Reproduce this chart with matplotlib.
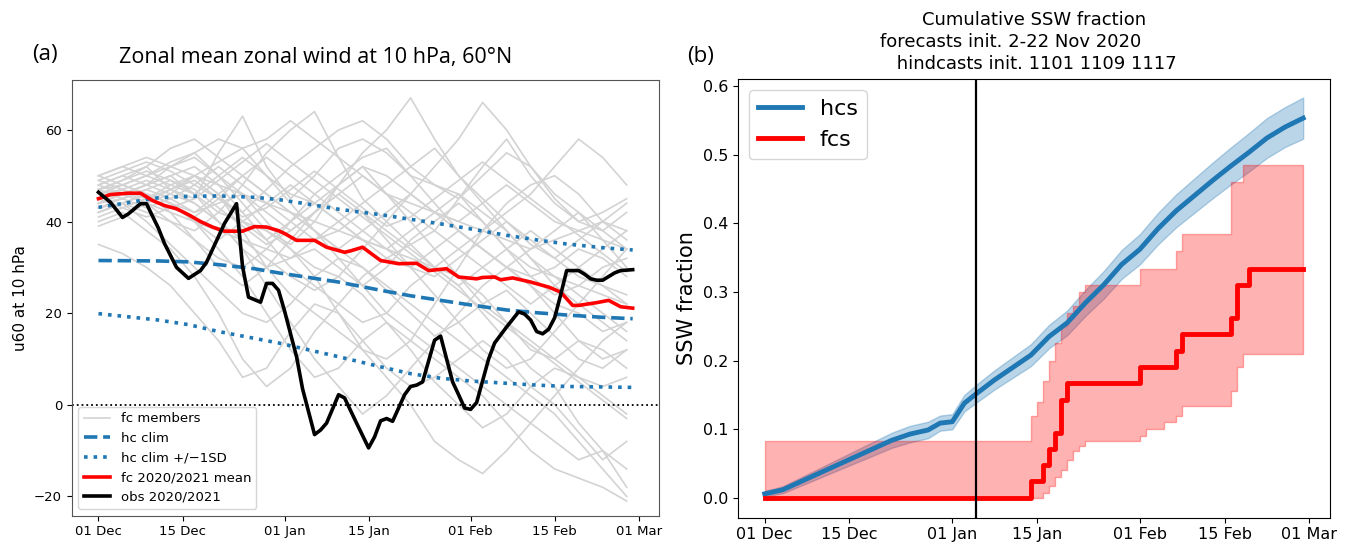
import matplotlib
matplotlib.use('Agg')
import matplotlib.pyplot as plt
import matplotlib.dates as mdates
from datetime import datetime, timedelta

start = datetime(2020, 12, 1)

# ---- panel (a): zonal mean zonal wind at 10 hPa, 60N ----
# forecast members, one value every 4 days from 01 Dec
member_days = [0, 4, 8, 12, 16, 20, 24, 28, 32, 36, 40, 44, 48, 52, 56, 60, 64, 68, 72, 76, 80, 84, 88]
members = [
    [48, 50, 52, 47, 45, 55, 63, 52, 45, 50, 56, 58, 55, 50, 48, 45, 50, 55, 52, 45, 40, 42, 45],
    [45, 47, 44, 40, 38, 42, 48, 55, 60, 64, 54, 45, 40, 35, 38, 45, 52, 58, 50, 44, 40, 38, 42],
    [50, 52, 50, 53, 55, 50, 44, 38, 35, 40, 48, 55, 60, 67, 58, 50, 45, 40, 35, 32, 36, 40, 38],
    [42, 44, 40, 35, 30, 25, 20, 18, 22, 28, 32, 30, 25, 20, 15, 18, 22, 25, 20, 15, 10, 8, 12],
    [46, 48, 46, 44, 40, 34, 28, 20, 12, 6, 8, 14, 18, 12, 5, 0, -5, -2, 4, 8, 6, 2, -2],
    [44, 46, 48, 50, 52, 48, 42, 36, 30, 26, 22, 18, 20, 26, 30, 28, 24, 18, 12, 10, 14, 12, 8],
    [40, 42, 38, 34, 28, 20, 10, 4, 8, 16, 22, 28, 32, 35, 30, 26, 20, 14, 8, 4, -4, -10, -18],
    [47, 49, 52, 56, 58, 54, 50, 46, 42, 38, 34, 30, 26, 22, 18, 14, 10, 6, 2, -2, -8, -14, -20],
    [43, 45, 47, 45, 42, 44, 46, 40, 34, 28, 20, 12, 6, 0, -8, -12, -15, -10, -4, 2, 8, 14, 18],
    [49, 51, 53, 51, 48, 45, 42, 47, 52, 56, 60, 62, 58, 52, 48, 46, 40, 34, 30, 28, 26, 24, 22],
    [41, 43, 45, 48, 50, 46, 38, 30, 24, 20, 16, 12, 10, 14, 22, 30, 38, 44, 48, 50, 46, 40, 36],
    [45, 47, 49, 47, 44, 40, 36, 32, 28, 25, 28, 34, 40, 46, 52, 58, 66, 60, 52, 46, 42, 36, 30],
    [35, 33, 30, 26, 20, 14, 6, 8, 16, 22, 20, 14, 8, 4, 6, 10, 14, 10, 4, 0, -6, -12, -8],
    [47, 48, 50, 52, 55, 58, 56, 50, 44, 38, 32, 26, 20, 16, 12, 8, 4, 0, -4, -8, -12, -10, -14],
    [44, 46, 44, 42, 40, 38, 36, 34, 32, 36, 40, 44, 48, 52, 56, 50, 44, 38, 32, 26, 22, 18, 14],
    [50, 52, 54, 52, 50, 48, 46, 44, 42, 40, 38, 36, 34, 32, 30, 34, 38, 42, 46, 52, 58, 54, 48],
    [42, 44, 46, 42, 36, 30, 26, 30, 36, 42, 48, 52, 46, 40, 34, 28, 22, 18, 14, 10, 6, 4, 6],
    [46, 47, 45, 43, 41, 45, 50, 54, 50, 46, 42, 38, 34, 30, 28, 32, 36, 40, 36, 32, 28, 26, 24],
    [48, 50, 48, 46, 44, 40, 34, 26, 18, 10, 4, -2, 2, 8, 14, 20, 26, 30, 26, 20, 14, 10, 12],
    [43, 44, 42, 40, 36, 32, 30, 34, 40, 46, 50, 54, 56, 50, 44, 38, 34, 30, 26, 22, 20, 16, 18],
    [45, 46, 48, 50, 46, 42, 40, 38, 34, 30, 28, 24, 18, 14, 10, 6, 2, -4, -10, -14, -16, -18, -21],
    [39, 41, 44, 47, 50, 53, 56, 58, 62, 58, 54, 50, 46, 44, 42, 40, 38, 36, 34, 36, 38, 40, 44],
    [47, 45, 43, 45, 48, 52, 48, 44, 40, 36, 38, 42, 36, 30, 24, 18, 12, 8, 10, 16, 22, 28, 34],
    [44, 45, 47, 49, 46, 40, 34, 30, 32, 34, 30, 26, 30, 36, 40, 44, 40, 34, 28, 24, 26, 30, 32],
    [46, 48, 50, 48, 46, 50, 54, 50, 46, 44, 48, 52, 50, 46, 42, 40, 44, 48, 44, 40, 38, 36, 34],
    [48, 46, 44, 46, 50, 46, 40, 36, 40, 44, 40, 36, 32, 30, 34, 38, 34, 30, 28, 30, 34, 32, 28],
    [44, 46, 48, 52, 54, 50, 46, 42, 38, 42, 46, 42, 38, 34, 30, 26, 30, 34, 38, 34, 30, 26, 22],
    [50, 48, 46, 44, 42, 46, 50, 46, 42, 38, 34, 38, 42, 46, 42, 38, 34, 30, 34, 38, 42, 38, 34],
    [42, 44, 46, 44, 40, 36, 40, 44, 48, 44, 40, 36, 34, 38, 42, 46, 42, 38, 32, 28, 24, 20, 16],
    [47, 49, 51, 49, 47, 43, 39, 35, 38, 42, 46, 50, 46, 42, 38, 34, 30, 26, 22, 26, 30, 34, 38],
    [45, 43, 41, 43, 45, 49, 53, 57, 53, 49, 45, 41, 37, 33, 29, 25, 21, 17, 13, 9, 5, 1, -3],
    [49, 47, 45, 47, 49, 45, 41, 43, 47, 51, 47, 43, 39, 41, 45, 49, 53, 49, 45, 41, 37, 33, 29],
]

clim_days = [0, 10, 15, 20, 26, 30, 35, 40, 47, 52, 57, 62, 68, 73, 78, 84, 89]
hc_clim = [31.5, 31.4, 31.2, 30.6, 29.7, 28.8, 27.8, 26.8, 25.0, 23.8, 22.8, 21.8, 20.7, 20.1, 19.6, 19.1, 18.8]
hc_clim_hi = [43.1, 45.2, 45.5, 45.6, 45.3, 44.8, 43.8, 42.7, 41.5, 40.5, 39.5, 38.4, 37.0, 36.0, 35.1, 34.3, 33.8]
hc_clim_lo = [19.9, 18.5, 17.5, 16.0, 14.5, 13.5, 12.0, 10.5, 8.3, 6.8, 5.8, 5.2, 4.7, 4.3, 4.0, 3.9, 3.8]

fc_mean_days = [0, 2, 5, 7, 9, 11, 13, 15, 17, 19, 21, 24, 26, 28, 30, 31, 33, 36, 38, 41, 42, 44, 47,
                50, 53, 55, 58, 60, 63, 64, 66, 67, 69, 72, 75, 77, 79, 80, 83, 85, 87, 89]
fc_mean = [45.0, 45.9, 46.2, 46.2, 44.6, 43.5, 42.8, 41.5, 40.0, 38.8, 37.9, 37.9, 38.9, 38.8, 38.0, 37.4,
           35.9, 35.9, 34.4, 33.3, 33.6, 34.4, 31.5, 30.8, 30.9, 29.3, 29.7, 27.9, 27.5, 27.8, 27.9, 27.3,
           27.7, 26.8, 25.7, 24.6, 21.7, 21.7, 22.3, 22.8, 21.4, 21.1]

obs_days = [0, 2, 4, 5, 7, 8, 10, 11, 13, 15, 17, 18, 21, 23, 24, 25, 27, 28, 29, 30, 31, 33, 34, 36, 37,
            38, 40, 41, 43, 45, 46, 47, 48, 49, 51, 52, 53, 54, 56, 57, 58, 59, 60, 61, 62, 63, 65, 66,
            68, 70, 71, 72, 73, 74, 75, 76, 77, 78, 80, 81, 82, 83, 84, 86, 87, 89]
obs = [46.4, 44.2, 40.9, 41.7, 43.9, 43.9, 38.5, 35.2, 30.0, 27.6, 29.3, 31.1, 39.6, 43.9, 30.2, 23.5,
       22.4, 26.5, 26.5, 25.0, 20.5, 10.5, 3.5, -6.5, -5.5, -4.0, 2.2, 1.5, -4.0, -9.4, -7.0, -3.5, -3.0,
       -3.6, 2.2, 4.0, 4.3, 5.0, 14.1, 15.0, 10.0, 5.0, 2.2, -0.7, -1.0, 0.5, 10.0, 13.5, 17.0, 20.3,
       19.8, 18.5, 16.0, 15.5, 16.5, 19.0, 24.0, 29.3, 29.3, 28.5, 27.5, 27.2, 27.2, 28.8, 29.3, 29.5]

# ---- panel (b): cumulative SSW fraction ----
hcs_days = [0, 3, 6, 9, 12, 15, 18, 21, 24, 27, 29, 31, 33, 35, 38, 41, 44, 47, 50, 53, 56, 59, 62, 65,
            68, 71, 74, 77, 80, 83, 86, 89]
hcs = [0.006, 0.012, 0.024, 0.036, 0.048, 0.060, 0.072, 0.084, 0.093, 0.099, 0.109, 0.111, 0.138, 0.152,
       0.172, 0.190, 0.208, 0.235, 0.255, 0.284, 0.310, 0.340, 0.362, 0.392, 0.418, 0.440, 0.462, 0.483,
       0.503, 0.524, 0.540, 0.553]
hcs_lo = [0.002, 0.007, 0.018, 0.029, 0.040, 0.051, 0.062, 0.073, 0.081, 0.087, 0.098, 0.100, 0.126,
          0.139, 0.158, 0.175, 0.192, 0.218, 0.237, 0.265, 0.290, 0.319, 0.340, 0.369, 0.394, 0.415,
          0.436, 0.456, 0.475, 0.495, 0.511, 0.523]
hcs_hi = [0.010, 0.017, 0.030, 0.043, 0.056, 0.069, 0.082, 0.095, 0.105, 0.111, 0.120, 0.122, 0.150,
          0.165, 0.186, 0.205, 0.224, 0.252, 0.273, 0.303, 0.330, 0.361, 0.384, 0.415, 0.442, 0.465,
          0.488, 0.510, 0.531, 0.553, 0.569, 0.583]

fcs_days = [0, 44, 45, 46, 47, 48, 49, 50, 51, 52, 53, 62, 63, 66, 68, 69, 70, 77, 78, 79, 80, 89]
fcs = [0, 0.024, 0.024, 0.048, 0.071, 0.095, 0.143, 0.167, 0.167, 0.167, 0.167, 0.190, 0.190, 0.190,
       0.214, 0.238, 0.238, 0.262, 0.310, 0.310, 0.333, 0.333]
fcs_hi = [0.083, 0.12, 0.14, 0.17, 0.20, 0.225, 0.25, 0.27, 0.28, 0.30, 0.31, 0.334, 0.334, 0.334,
          0.36, 0.385, 0.385, 0.46, 0.46, 0.485, 0.485, 0.485]
fcs_lo = [0, 0, 0, 0.007, 0.017, 0.03, 0.041, 0.055, 0.068, 0.075, 0.083, 0.09, 0.10, 0.11, 0.12,
          0.134, 0.134, 0.156, 0.19, 0.21, 0.21, 0.21]

ssw_date = datetime(2021, 1, 5)


def to_dates(days):
    return [start + timedelta(days=d) for d in days]


tick_dates = [datetime(2020, 12, 1), datetime(2020, 12, 15), datetime(2021, 1, 1), datetime(2021, 1, 15),
              datetime(2021, 2, 1), datetime(2021, 2, 15), datetime(2021, 3, 1)]
xlim = (start - timedelta(days=4.45), start + timedelta(days=93.45))

fig = plt.figure(figsize=(13.49, 5.45), dpi=100)

# (a)
ax1 = fig.add_axes([0.0532, 0.0538, 0.4356, 0.7994])
for i, m in enumerate(members):
    ax1.plot(to_dates(member_days), m, color='lightgrey', lw=1.2,
             label='fc members' if i == 0 else None)
ax1.plot(to_dates(clim_days), hc_clim, color='#1f77b4', lw=2.6, ls='--', label='hc clim')
ax1.plot(to_dates(clim_days), hc_clim_hi, color='#1f77b4', lw=2.6, ls=':', label='hc clim +/\u22121SD')
ax1.plot(to_dates(clim_days), hc_clim_lo, color='#1f77b4', lw=2.6, ls=':')
ax1.plot(to_dates(fc_mean_days), fc_mean, color='red', lw=2.6, label='fc 2020/2021 mean')
ax1.plot(to_dates(obs_days), obs, color='black', lw=2.6, label='obs 2020/2021')
ax1.axhline(0, color='black', ls=':', lw=1.3)
ax1.set_xlim(xlim)
ax1.set_ylim(-24.2, 70.9)
ax1.set_yticks([-20, 0, 20, 40, 60])
ax1.set_xticks(tick_dates)
ax1.xaxis.set_major_formatter(mdates.DateFormatter('%d %b'))
ax1.tick_params(labelsize=9.5)
ax1.set_ylabel('u60 at 10 hPa', fontsize=11)
for s in ax1.spines.values():
    s.set_color('#555555')
ax1.legend(loc='lower left', fontsize=9.5, handlelength=2.0)
fig.text(0.033, 0.9, '(a)', fontsize=16, family='Open Sans', ha='center', va='center')
fig.text(0.234, 0.894, 'Zonal mean zonal wind at 10 hPa, 60\u00b0N', fontsize=15.5, family='Open Sans',
         ha='center', va='center')

# (b)
ax2 = fig.add_axes([0.5469, 0.0501, 0.4391, 0.8050])
ax2.fill_between(to_dates(hcs_days), hcs_lo, hcs_hi, color='#1f77b4', alpha=0.3)
ax2.plot(to_dates(hcs_days), hcs, color='#1f77b4', lw=3.5, label='hcs')
ax2.fill_between(to_dates(fcs_days), fcs_lo, fcs_hi, color='red', alpha=0.3, step='post')
ax2.step(to_dates(fcs_days), fcs, where='post', color='red', lw=3.5, label='fcs')
ax2.axvline(ssw_date, color='black', lw=1.6)
ax2.set_xlim(xlim)
ax2.set_ylim(-0.0287, 0.610)
ax2.set_xticks(tick_dates)
ax2.xaxis.set_major_formatter(mdates.DateFormatter('%d %b'))
ax2.tick_params(labelsize=11.5)
ax2.set_ylabel('SSW fraction', fontsize=15)
ax2.legend(loc='upper left', fontsize=16, handlelength=2.0)
ax2.set_title('Cumulative SSW fraction\nforecasts init. 2-22 Nov 2020        \n'
              ' hindcasts init. 1101 1109 1117', fontsize=13, linespacing=1.3, pad=7)
fig.text(0.519, 0.896, '(b)', fontsize=16, family='Open Sans', ha='center', va='center')

fig.savefig('out.png', dpi=100)
